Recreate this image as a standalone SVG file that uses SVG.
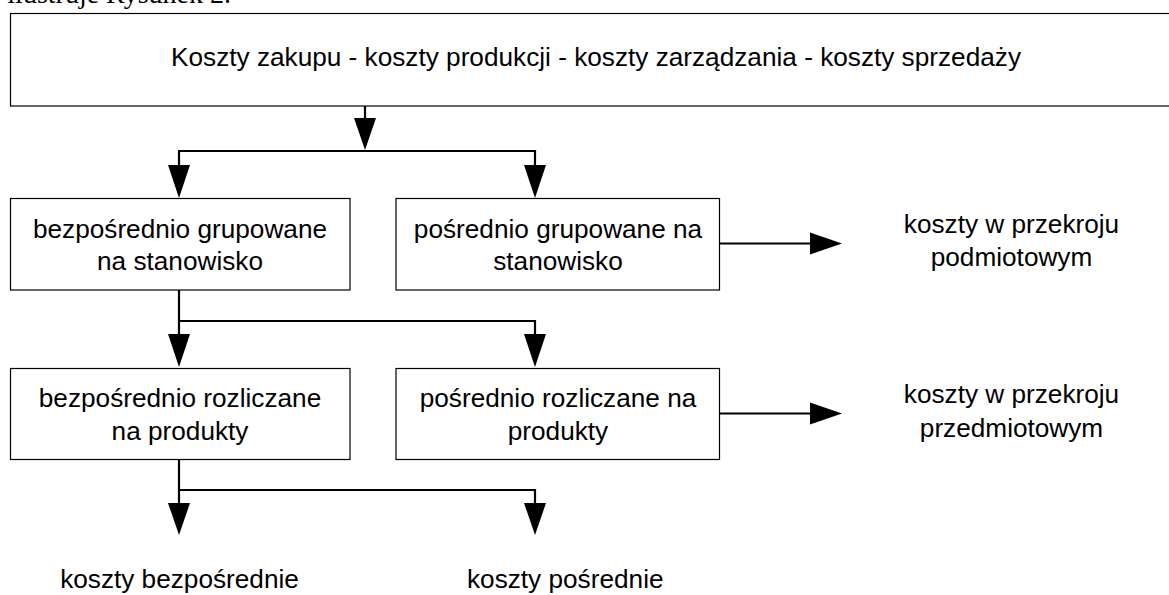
<svg xmlns="http://www.w3.org/2000/svg" width="1169" height="595" viewBox="0 0 1169 595">
  <defs>
    <style>
      .box { fill: #fff; stroke: #000; stroke-width: 1.2; }
      .t { font-family: "Liberation Sans", Arial, sans-serif; font-size: 26.2px; fill: #000; }
      .c { text-anchor: middle; }
      .ln { fill: none; stroke: #000; stroke-width: 2.2; }
      .ah { fill: #000; stroke: none; }
    </style>
  </defs>
  <rect width="1169" height="595" fill="#fff"/>
  <text x="231" y="3" text-anchor="end" style="font-family: 'Liberation Serif', 'Times New Roman', serif; font-size: 28px; fill: #000;">ilustruje Rysunek 2.</text>

  <g id="node-top">
    <rect class="box" x="10.5" y="13.5" width="1172" height="92.5"/>
    <text class="t c" x="596" y="66">Koszty zakupu - koszty produkcji - koszty zarządzania - koszty sprzedaży</text>
  </g>
  <g id="node-bgs">
    <rect class="box" x="10.5" y="198.5" width="339.5" height="91.5"/>
    <text class="t c" x="180" y="238">bezpośrednio grupowane</text>
    <text class="t c" x="180" y="270">na stanowisko</text>
  </g>
  <g id="node-pgs">
    <rect class="box" x="396" y="198.5" width="323.5" height="91.5"/>
    <text class="t c" x="558" y="238">pośrednio grupowane na</text>
    <text class="t c" x="558" y="270">stanowisko</text>
  </g>
  <g id="node-kpp">
    <text class="t c" x="1011.5" y="233">koszty w przekroju</text>
    <text class="t c" x="1011.5" y="266">podmiotowym</text>
  </g>
  <g id="node-brp">
    <rect class="box" x="10.5" y="368.5" width="339.5" height="91"/>
    <text class="t c" x="180" y="407">bezpośrednio rozliczane</text>
    <text class="t c" x="180" y="440">na produkty</text>
  </g>
  <g id="node-prp">
    <rect class="box" x="396" y="368.5" width="323.5" height="91"/>
    <text class="t c" x="558" y="407">pośrednio rozliczane na</text>
    <text class="t c" x="558" y="440">produkty</text>
  </g>
  <g id="node-kpr">
    <text class="t c" x="1011.5" y="403">koszty w przekroju</text>
    <text class="t c" x="1011.5" y="437">przedmiotowym</text>
  </g>
  <g id="node-kb">
    <text class="t c" x="179.5" y="588">koszty bezpośrednie</text>
  </g>
  <g id="node-kp">
    <text class="t" x="467" y="588">koszty pośrednie</text>
  </g>

  <g id="connectors">
    <path class="ln" d="M365,106 V120"/>
    <polygon class="ah" points="354,118 376,118 365,150"/>
    <path class="ln" d="M179,166 V151 H535 V166"/>
    <polygon class="ah" points="168,165 190,165 179,198"/>
    <polygon class="ah" points="524,165 546,165 535,198"/>

    <path class="ln" d="M720,243.5 H812"/>
    <polygon class="ah" points="810,232.5 810,254.5 842,243.5"/>

    <path class="ln" d="M179,290 V335 M179,321 H535 V335"/>
    <polygon class="ah" points="168,334 190,334 179,367"/>
    <polygon class="ah" points="524,334 546,334 535,367"/>

    <path class="ln" d="M720,413.5 H812"/>
    <polygon class="ah" points="810,402.5 810,424.5 842,413.5"/>

    <path class="ln" d="M179,459.5 V505 M179,490 H535 V505"/>
    <polygon class="ah" points="168,503 190,503 179,535"/>
    <polygon class="ah" points="524,503 546,503 535,535"/>
  </g>
</svg>
